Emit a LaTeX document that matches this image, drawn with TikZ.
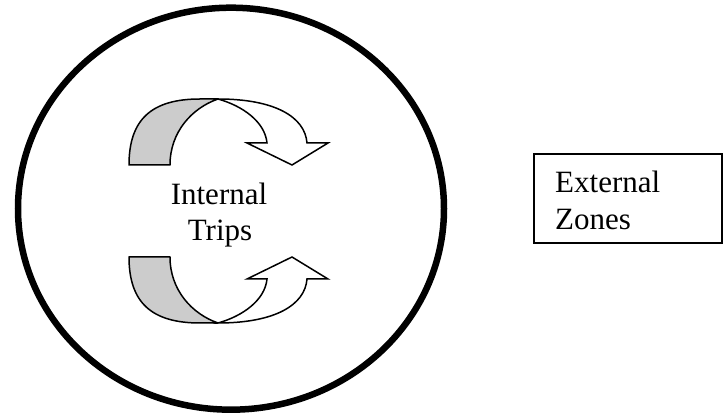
\documentclass[tikz,border=0pt]{standalone}
\usepackage{fontspec}
\setmainfont{Liberation Serif}
\definecolor{bandgrey}{RGB}{204,204,204}
\tikzset{
  lbl/.style={font=\fontsize{31}{36}\selectfont, inner sep=0pt},
  band/.style={draw=black, line width=1.5pt, fill=bandgrey, line join=round},
  arrowbody/.style={draw=black, line width=1.5pt, fill=white, line join=miter},
  zone/.style={draw=black, line width=6.5pt},
  boxline/.style={draw=black, line width=2pt}
}
\begin{document}
\begin{tikzpicture}[x=1pt,y=1pt]
\useasboundingbox (0,0) rectangle (723,417);
% big circle (internal zone)
\draw[zone] (231,208.3) ellipse [x radius=213, y radius=201];
% upper curved arrow
\begin{scope}
\path[band] (129,252) .. controls (129,298) and (152,318) .. (200,318) -- (218,318)
  .. controls (192,309) and (170,285) .. (170,252) -- cycle;
\path[arrowbody] (218,318) .. controls (275,318) and (305,300) .. (307,274)
  -- (328,274) -- (292,252) -- (247,274) -- (267,274)
  .. controls (265,295) and (243,311) .. (218,318) -- cycle;
\end{scope}
% lower curved arrow (mirror image)
\begin{scope}[shift={(0,412)}, yscale=-1]
\path[band] (129,252) .. controls (129,298) and (152,318) .. (200,318) -- (218,318)
  .. controls (192,309) and (170,285) .. (170,252) -- cycle;
\path[arrowbody] (218,318) .. controls (275,318) and (305,300) .. (307,274)
  -- (328,274) -- (292,252) -- (247,274) -- (267,274)
  .. controls (265,295) and (243,311) .. (218,318) -- cycle;
\end{scope}
% labels
\node[lbl, anchor=base] (int1) at (219,212) {Internal};
\node[lbl, anchor=base] (int2) at (220,176) {Trips};
% external zones box
\draw[boxline] (534,174) rectangle (721.5,263);
\node[lbl, anchor=base west] (ext1) at (555,224) {External};
\node[lbl, anchor=base west] (ext2) at (555,187) {Zones};
\end{tikzpicture}
\end{document}
